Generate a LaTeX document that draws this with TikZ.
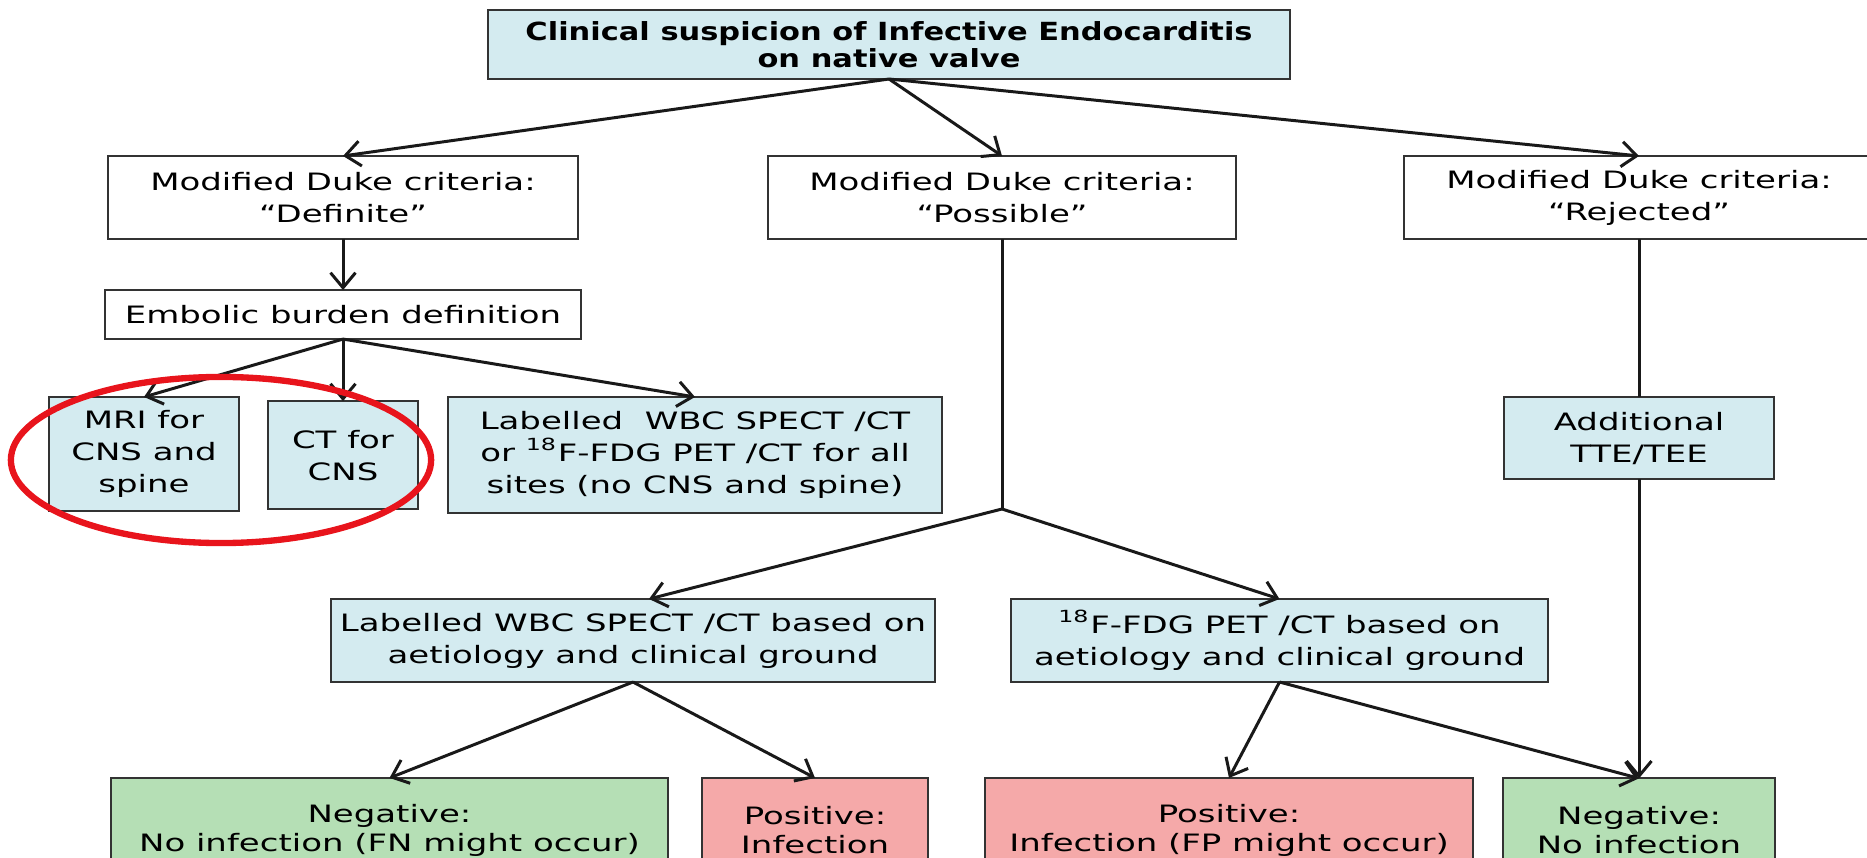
\documentclass[tikz,border=0pt]{standalone}
\usepackage{fontspec}
\setmainfont{DejaVu Sans}[FakeStretch=1.42]
\newfontfamily\headfont{DejaVu Sans}[FakeStretch=1.22]
\usetikzlibrary{arrows.meta, positioning, shapes.geometric}
\definecolor{boxblue}{HTML}{D4EBF0}
\definecolor{boxgreen}{HTML}{B5DFB5}
\definecolor{boxred}{HTML}{F5A9A9}
\definecolor{boxline}{HTML}{333333}
\definecolor{markred}{HTML}{E8141C}

\begin{document}
\begin{tikzpicture}[x=0.01cm, y=-0.01cm,
        every node/.style={font=\fontsize{6.8}{9.1}\selectfont},
        crit/.style={rectangle, draw=boxline, line width=0.6pt, fill=white, align=center, inner sep=0pt, outer sep=0pt, minimum height=0.83cm},
        exam/.style={crit, fill=boxblue},
        negbox/.style={crit, fill=boxgreen, minimum height=1.04cm, font=\fontsize{6.8}{8.2}\selectfont},
        posbox/.style={crit, fill=boxred, minimum height=1.04cm, font=\fontsize{6.8}{8.2}\selectfont},
        link/.style={line width=0.85pt, black!90},
        flow/.style={link, -{Straight Barb[length=1.5mm, width=2.5mm]}}]
        \useasboundingbox (0,0) rectangle (1867,858);
        \clip (0,0) rectangle (1867,858);
        % \fill[white] (0,0) rectangle (1867,858);
        \node[exam, minimum width=8.02cm, minimum height=0.69cm, font=\headfont\bfseries\fontsize{7.1}{7.7}\selectfont] (ie) at (889,44.5) {Clinical suspicion of Infective Endocarditis\\on native valve};
        
        \node[crit, minimum width=4.70cm] (dk_def) at (343,197.5) {Modified Duke criteria:\\“Definite”};
        \node[crit, minimum width=4.68cm] (dk_pos) at (1002,197.5) {Modified Duke criteria:\\“Possible”};
        \node[crit, minimum width=4.70cm] (dk_rej) at (1639,197.5) {Modified Duke criteria:\\“Rejected”};
        
        \node[crit, minimum width=4.76cm, minimum height=0.49cm] (emb) [below = 0.51cm of dk_def] {Embolic burden definition};
        \node[exam, minimum width=1.90cm, minimum height=1.14cm] (mri) at (144,454) {MRI for\\CNS and\\spine};
        \node[exam, minimum width=1.50cm, minimum height=1.08cm] (ct) [below = 0.62cm of emb] {CT for\\CNS};
        \node[exam, minimum width=4.94cm, minimum height=1.16cm] (allsites) at (695,455) {Labelled\ \ WBC SPECT /CT\\or \textsuperscript{18}F-FDG PET /CT for all\\sites (no CNS and spine)};
        \node[exam, minimum width=2.70cm, minimum height=0.82cm] (tte) [below = 1.58cm of dk_rej] {Additional\\TTE/TEE};
        
        \coordinate (fork) at (1002,509);
        \node[exam, minimum width=6.04cm] (wbc) at (633,640.5) {Labelled WBC SPECT /CT based on\\aetiology and clinical ground};
        \node[exam, minimum width=5.37cm] (fdg) at (1279.5,640.5) {\textsuperscript{18}F-FDG PET /CT based on\\aetiology and clinical ground};
        
        \node[negbox, minimum width=5.57cm] (neg_wbc) at (389.5,830) {Negative:\\No infection (FN might occur)};
        \node[posbox, minimum width=2.26cm] (pos_wbc) at (815,830) {Positive:\\Infection};
        \node[posbox, minimum width=4.88cm] (pos_fdg) at (1229,830) {Positive:\\Infection (FP might occur)};
        \node[negbox, minimum width=2.72cm] (neg_fdg) [below = 2.99cm of tte] {Negative:\\No infection};
        
        \path[flow] (ie.south) edge (dk_def.north) edge (dk_pos.north) edge (dk_rej.north);
        \path[flow] (dk_def) edge (emb);
        \path[flow] (emb.south) edge (mri.north) edge (ct.north) edge (allsites.north);
        \draw[link] (dk_pos) -- (fork);
        \path[flow] (fork) edge ([xshift=0.16cm]wbc.north) edge (fdg.north);
        \path[flow] (wbc.south) edge (neg_wbc.north) edge (pos_wbc.north);
        \path[flow] (fdg.south) edge (pos_fdg.north) edge (neg_fdg.north);
        \draw[link] (dk_rej) -- (tte);
        \path[flow] (tte) edge (neg_fdg);
        
        % red mark round the CNS boxes
        \node[ellipse, draw=markred, line width=1.8pt, inner sep=0pt, minimum width=4.20cm, minimum height=1.66cm] (cnsmark) at (221,460) {};
    \end{tikzpicture}
\end{document}
